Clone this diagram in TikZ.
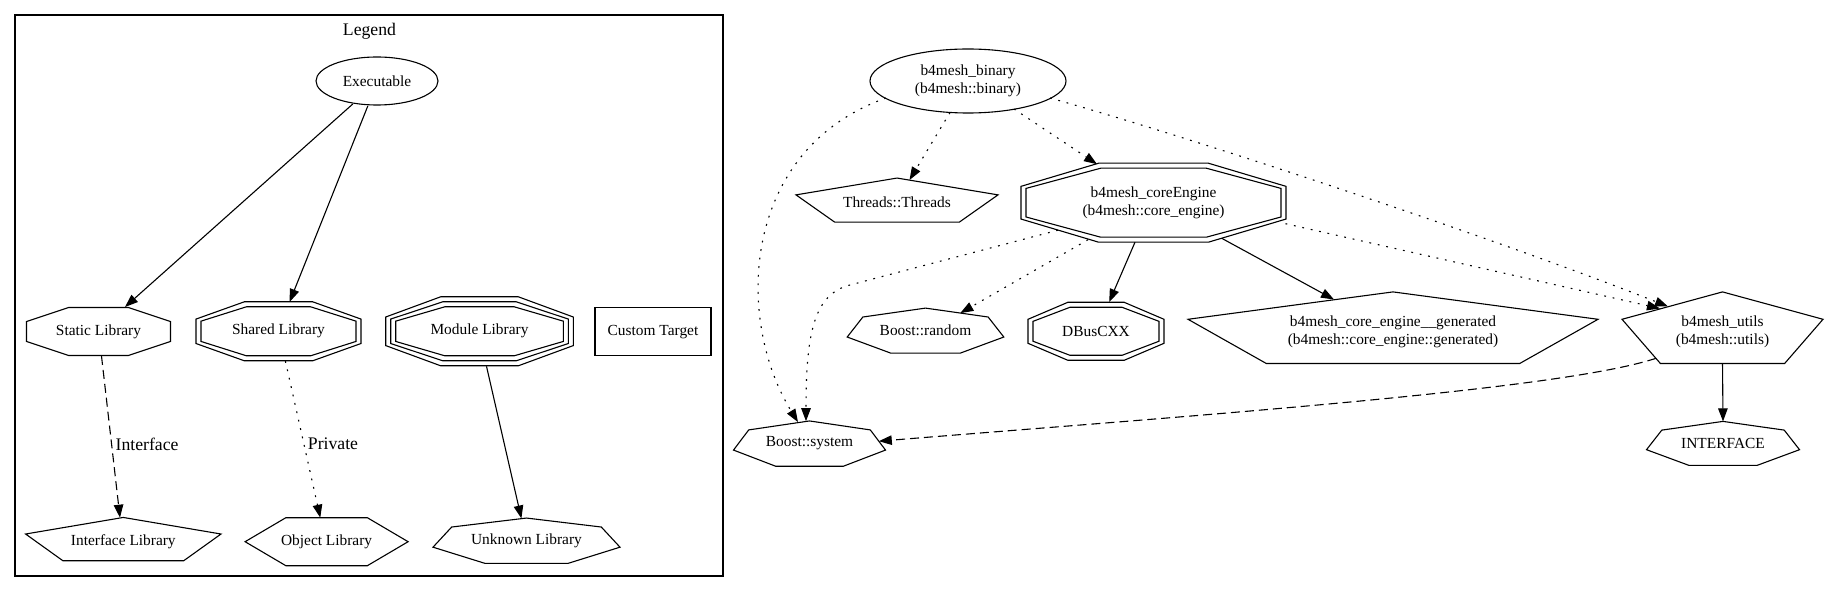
\documentclass[tikz,border=0pt]{standalone}
\usepackage{fontspec}
\setmainfont{Liberation Serif}
\usetikzlibrary{shapes.geometric,arrows.meta,calc}

% unit outlines (y grows downwards), box -1..1
\newcommand\octpts{(-0.414,-1) -- (0.414,-1) -- (1,-0.414) -- (1,0.414) -- (0.414,1) -- (-0.414,1) -- (-1,0.414) -- (-1,-0.414)}
\newcommand\penpts{(0,-1.12) -- (1,-0.355) -- (0.618,0.88) -- (-0.618,0.88) -- (-1,-0.355)}
\newcommand\hexpts{(-0.5,-1) -- (0.5,-1) -- (1,0) -- (0.5,1) -- (-0.5,1) -- (-1,0)}
\newcommand\seppts{(0,-1) -- (0.8,-0.604) -- (1,0.286) -- (0.445,1) -- (-0.445,1) -- (-1,0.286) -- (-0.8,-0.604)}

% outline #4 round node #1, #2 wide and #3 high
\newcommand\gvshape[4]{%
  \begin{scope}[shift={(#1)},xscale=(#2)/2,yscale=(#3)/2]
    \draw[gvline] #4 -- cycle;
  \end{scope}}

\begin{document}
\begin{tikzpicture}[x=1pt,y=-1pt,
    gvline/.style={line width=1.1pt},
    gvtext/.style={font={\fontsize{15.4}{18}\selectfont},inner sep=0pt,align=center},
    gvlabel/.style={font={\fontsize{17.7}{21}\selectfont},inner sep=3.5pt},
    gvarrow/.style={gvline,-{Triangle[length=13pt,width=9.5pt]}},
    gvdash/.style={dash pattern=on 9pt off 5pt},
    gvdot/.style={dash pattern=on 1.8pt off 6.8pt}]
  \useasboundingbox (0,0) rectangle (1828,593);

  % Legend
  \draw[line width=1.3pt] (15,15) rectangle (723,576);
  \node[gvlabel,anchor=base,inner sep=0pt] (legend) at (369.5,36) {Legend};

  \node[gvtext,gvline,draw,ellipse,minimum width=122pt,minimum height=48pt] (exe) at (377,81) {Executable};
  \node[gvtext] (static) at (98.5,331.5) {Static Library};
  \gvshape{static}{144}{48}{\octpts}
  \node[gvtext] (shared) at (278.5,331.3) {Shared Library};
  \foreach \g in {0,10} {\gvshape{shared}{155+\g}{49+\g}{\octpts}}
  \node[gvtext] (module) at (479.5,331.3) {Module Library};
  \foreach \g in {0,10,20} {\gvshape{module}{167.6+\g}{49+\g}{\octpts}}
  \node[gvtext,gvline,draw,minimum width=116pt,minimum height=48pt] (custom) at (653,331.7) {Custom Target};

  \node[gvtext] (iface) at (123.3,541.7) {Interface Library};
  \gvshape{iface}{195.4}{43.3}{\penpts}
  \node[gvtext] (object) at (326.6,541.7) {Object Library};
  \gvshape{object}{163}{48}{\hexpts}
  \node[gvtext] (unknown) at (526.5,540.7) {Unknown Library};
  \gvshape{unknown}{187}{45.3}{\seppts}

  \draw[gvarrow] ($(exe)+(-24.2,23)$) -- ($(static)+(26.5,-24.5)$);
  \draw[gvarrow] ($(exe)+(-9.2,25)$) -- ($(shared)+(11.1,-29.3)$);
  \draw[gvarrow,gvdash] ($(static)+(3,24.5)$) -- node[gvlabel,pos=0.545,anchor=west] {Interface} ($(iface)+(-3.3,-24)$);
  \draw[gvarrow,gvdot] ($(shared)+(6.9,29.7)$) -- node[gvlabel,pos=0.53,anchor=west] {Private} ($(object)+(-6.3,-24)$);
  \draw[gvarrow] ($(module)+(7,35)$) -- ($(unknown)+(-5.1,-22.2)$);

  % Targets
  \node[gvtext,gvline,draw,ellipse,minimum width=196pt,minimum height=64pt] (binary) at (968,81) {b4mesh\_binary\\(b4mesh::binary)};
  \node[gvtext] (threads) at (897,202.7) {Threads::Threads};
  \gvshape{threads}{202}{44}{\penpts}
  \node[gvtext] (core) at (1153.5,202.7) {b4mesh\_coreEngine\\(b4mesh::core\_engine)};
  \foreach \g in {0,10} {\gvshape{core}{255+\g}{69+\g}{\octpts}}
  \node[gvtext] (random) at (925.5,330.6) {Boost::random};
  \gvshape{random}{156.6}{45}{\seppts}
  \node[gvtext] (dbus) at (1096,331.3) {DBusCXX};
  \foreach \g in {0,10} {\gvshape{dbus}{126+\g}{48+\g}{\octpts}}
  \node[gvtext] (generated) at (1393,332) {b4mesh\_core\_engine\_\_generated\\(b4mesh::core\_engine::generated)};
  \gvshape{generated}{410}{71.6}{\penpts}
  \node[gvtext] (utils) at (1722.5,332) {b4mesh\_utils\\(b4mesh::utils)};
  \gvshape{utils}{201}{71.6}{\penpts}
  \node[gvtext] (system) at (809.5,443.6) {Boost::system};
  \gvshape{system}{152}{45.3}{\seppts}
  \node[gvtext] (ifc) at (1723,443.4) {INTERFACE};
  \gvshape{ifc}{153}{44}{\seppts}

  % Links
  \draw[gvarrow,gvdot] ($(binary)+(-82,17)$) .. controls (740,150) and (735,320) .. ($(system)+(-11.5,-21.5)$);
  \draw[gvarrow,gvdot] ($(binary)+(-18,31.5)$) -- ($(threads)+(12.5,-22.7)$);
  \draw[gvarrow,gvdot] ($(binary)+(46,28)$) -- ($(core)+(-56.5,-38.5)$);
  \draw[gvarrow,gvdot] ($(binary)+(82,17)$) .. controls (1200,140) and (1500,240) .. ($(utils)+(-54.5,-25.5)$);
  \draw[gvarrow,gvdot] ($(core)+(-95.5,27.5)$) -- (850,285) .. controls (815,294) and (806,330) .. ($(system)+(-3.5,-22.4)$);
  \draw[gvarrow,gvdot] ($(core)+(-65.5,37)$) -- ($(random)+(34.8,-17.5)$);
  \draw[gvarrow] ($(core)+(-18.5,39.5)$) -- ($(dbus)+(13.2,-29.3)$);
  \draw[gvarrow] ($(core)+(68.2,35.6)$) -- ($(generated)+(-59,-32.5)$);
  \draw[gvarrow,gvdot] ($(core)+(132,21)$) -- ($(utils)+(-62.5,-23.5)$);
  \draw[gvarrow,gvdash] ($(utils)+(-66.5,26.3)$) .. controls (1560,390) and (1200,415) .. ($(system)+(69.3,-2.4)$);
  \draw[gvarrow] ($(utils)+(0,31.3)$) -- ($(ifc)+(0,-22)$);
\end{tikzpicture}
\end{document}
